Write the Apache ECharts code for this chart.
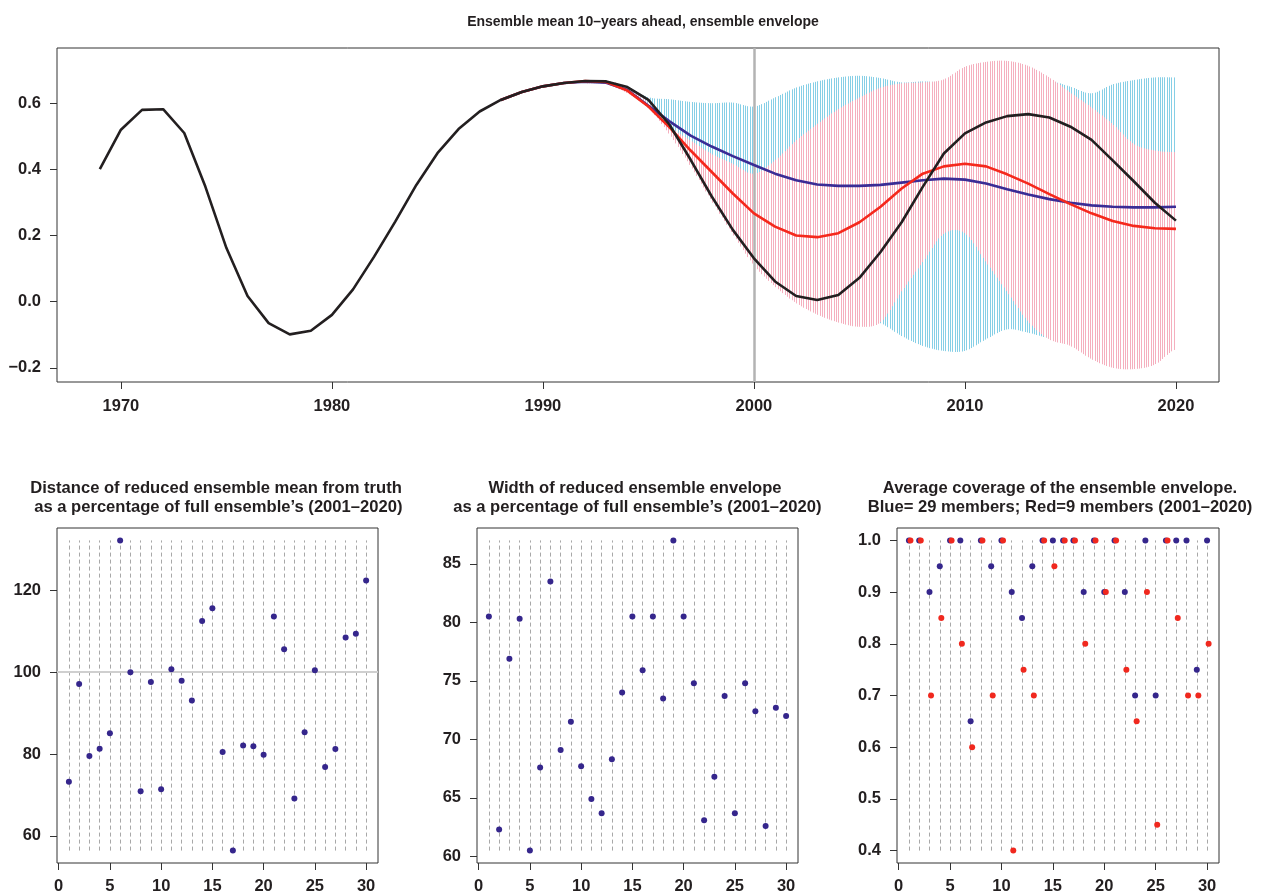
<!DOCTYPE html>
<html><head><meta charset="utf-8">
<script src="https://cdn.jsdelivr.net/npm/echarts@6/dist/echarts.min.js"></script>
<style>html,body{margin:0;padding:0;background:#fff}#c{width:1262px;height:893px}</style>
</head><body><div id="c"></div><script>
// ---------------- data ----------------
const truthYears = [1969,1970,1971,1972,1973,1974,1975,1976,1977,1978,1979,1980,1981,1982,1983,1984,1985,1986,1987,1988,1989,1990,1991,1992,1993,1994,1995,1996,1997,1998,1999,2000,2001,2002,2003,2004,2005,2006,2007,2008,2009,2010,2011,2012,2013,2014,2015,2016,2017,2018,2019,2020];
const truth = [0.401,0.520,0.580,0.582,0.510,0.348,0.162,0.017,-0.065,-0.099,-0.088,-0.040,0.037,0.136,0.242,0.353,0.449,0.522,0.575,0.610,0.634,0.651,0.661,0.667,0.666,0.649,0.610,0.535,0.429,0.318,0.217,0.131,0.061,0.017,0.005,0.020,0.072,0.150,0.240,0.347,0.448,0.509,0.542,0.561,0.567,0.557,0.529,0.489,0.427,0.364,0.299,0.245];

const meanYears = [1988,1989,1990,1991,1992,1993,1994,1995,1996,1997,1998,1999,2000,2001,2002,2003,2004,2005,2006,2007,2008,2009,2010,2011,2012,2013,2014,2015,2016,2017,2018,2019,2020];
const mean29 = [0.610,0.634,0.651,0.661,0.665,0.662,0.640,0.592,0.545,0.502,0.469,0.440,0.413,0.387,0.367,0.354,0.350,0.350,0.353,0.360,0.367,0.372,0.369,0.357,0.340,0.324,0.310,0.299,0.291,0.287,0.285,0.285,0.287];
const mean9 = [0.610,0.634,0.651,0.661,0.667,0.664,0.638,0.590,0.527,0.457,0.392,0.327,0.267,0.227,0.200,0.195,0.207,0.240,0.287,0.342,0.387,0.409,0.417,0.409,0.385,0.357,0.325,0.295,0.267,0.244,0.229,0.222,0.220];

const envYears = [1992,1993,1994,1995,1996,1997,1998,1999,2000,2001,2002,2003,2004,2005,2006,2007,2008,2009,2010,2011,2012,2013,2014,2015,2016,2017,2018,2019,2020];
const env29Hi = [0.667,0.667,0.650,0.618,0.612,0.604,0.600,0.602,0.590,0.617,0.647,0.666,0.678,0.683,0.676,0.663,0.666,0.663,0.665,0.670,0.672,0.670,0.668,0.650,0.630,0.657,0.670,0.678,0.678];
const env29Lo = [0.662,0.660,0.640,0.585,0.520,0.450,0.380,0.300,0.220,0.150,0.080,0.020,-0.020,-0.045,-0.065,-0.104,-0.134,-0.149,-0.149,-0.114,-0.084,-0.094,-0.110,-0.110,-0.100,-0.100,-0.100,-0.100,-0.100];
const env9Hi = [0.667,0.668,0.648,0.600,0.530,0.487,0.447,0.417,0.387,0.427,0.487,0.537,0.582,0.617,0.647,0.660,0.663,0.672,0.710,0.725,0.728,0.713,0.678,0.632,0.587,0.537,0.477,0.457,0.452];
const env9Lo = [0.660,0.658,0.630,0.585,0.505,0.409,0.305,0.205,0.110,0.046,-0.004,-0.039,-0.063,-0.076,-0.062,0.031,0.120,0.205,0.207,0.120,0.030,-0.060,-0.114,-0.134,-0.174,-0.200,-0.204,-0.190,-0.144];

const topXTicks = [1970,1980,1990,2000,2010,2020];
const topYTicks = [-0.2,0.0,0.2,0.4,0.6];
const forecastStart = 2000;

const members = [1,2,3,4,5,6,7,8,9,10,11,12,13,14,15,16,17,18,19,20,21,22,23,24,25,26,27,28,29,30];
const distance = [73.2,97.1,79.5,81.3,85.1,132.2,100.0,70.9,97.6,71.4,100.7,97.9,93.1,112.5,115.6,80.5,56.4,82.1,81.9,79.8,113.6,105.6,69.1,85.3,100.5,76.8,81.2,108.5,109.4,122.4];
const width = [80.5,62.3,76.9,80.3,60.5,67.6,83.5,69.1,71.5,67.7,64.9,63.7,68.3,74.0,80.5,75.9,80.5,73.5,87.0,80.5,74.8,63.1,66.8,73.7,63.7,74.8,72.4,62.6,72.7,72.0];
const cover29 = [1.0,1.0,0.9,0.95,1.0,1.0,0.65,1.0,0.95,1.0,0.9,0.85,0.95,1.0,1.0,1.0,1.0,0.9,1.0,0.9,1.0,0.9,0.7,1.0,0.7,1.0,1.0,1.0,0.75,1.0];
const cover9 = [1.0,1.0,0.7,0.85,1.0,0.8,0.6,1.0,0.7,1.0,0.4,0.75,0.7,1.0,0.95,1.0,1.0,0.8,1.0,0.9,1.0,0.75,0.65,0.9,0.45,1.0,0.85,0.7,0.7,0.8];

const bottomXTicks = [0,5,10,15,20,25,30];
const distYTicks = [60,80,100,120];
const widthYTicks = [60,65,70,75,80,85];
const coverYTicks = [0.4,0.5,0.6,0.7,0.8,0.9,1.0];
const refLevel = 100;

// ---------------- styling helpers ----------------
const FONT = "'Liberation Sans', Arial, Helvetica, sans-serif";
const TXT = '#231f20';
const C_BLACK = '#231f20', C_RED = '#f5281c', C_BLUE = '#3a2c95';
const C_CYAN = '#86cfe6', C_PINK = '#f5afbe';
const PT_BLUE = '#35268c', PT_RED = '#f0281e';
const HATCH_STEP = 2.33;

function rng(arr){ const lo = Math.min(...arr), hi = Math.max(...arr), d = (hi-lo)*0.04; return [lo-d, hi+d]; }
const fmtMinus = v => (v < 0 ? '\u2212' : '') + Math.abs(v).toFixed(1);

function gridOf(left, top, w, h){
  return {left, top, width: w, height: h, show: true, borderColor: '#333', borderWidth: 1,
          backgroundColor: 'transparent', containLabel: false, outerBoundsMode: 'none'};
}
function axis(gridIndex, min, max, ticks, fontSize, margin, fmt){
  return {
    gridIndex, type: 'value', min, max, scale: true,
    axisLine: {show: false, onZero: false},
    splitLine: {show: false},
    axisTick: {show: true, length: 7, customValues: ticks, lineStyle: {color: '#333', width: 1}},
    axisLabel: {customValues: ticks, margin, fontSize, fontWeight: 'bold', color: TXT, fontFamily: FONT,
                formatter: fmt || (v => String(v))}
  };
}
const pairs = (xs, ys) => xs.map((x,i) => [x, ys[i]]);

// Envelope drawn as vertical hatching between the upper and lower bounds (through the axis scales).
function hatchSeries(hi, lo, color, z){
  const n = envYears.length;
  return {
    type: 'custom', coordinateSystem: 'cartesian2d', xAxisIndex: 0, yAxisIndex: 0, silent: true, z,
    data: envYears.map((y,i) => [y, lo[i], hi[i]]),
    encode: {x: 0, y: [1, 2]},
    renderItem: (params, api) => {
      const i = params.dataIndex;
      if (i >= n - 1) return null;
      const P = k => { const kk = Math.max(0, Math.min(n-1, k));
        return [api.coord([envYears[kk], hi[kk]]), api.coord([envYears[kk], lo[kk]])]; };
      const pm = P(i-1), p0 = P(i), p1 = P(i+1), p2 = P(i+2);
      const x0 = p0[0][0], x1 = p1[0][0];
      const cr = (a,b,c,d,t) => 0.5*(2*b + (-a+c)*t + (2*a-5*b+4*c-d)*t*t + (-a+3*b-3*c+d)*t*t*t);
      const children = [];
      const last = (i === n - 2);
      for (let x = Math.ceil(x0 / HATCH_STEP) * HATCH_STEP; x < x1 || (last && x <= x1 + 0.01); x += HATCH_STEP) {
        const t = Math.min(1, (x - x0) / (x1 - x0));
        const yt = cr(pm[0][1], p0[0][1], p1[0][1], p2[0][1], t);
        const yb = cr(pm[1][1], p0[1][1], p1[1][1], p2[1][1], t);
        const xs = Math.floor(x) + 0.5;
        children.push({type: 'line', shape: {x1: xs, y1: yt, x2: xs, y2: yb}, style: {stroke: color, lineWidth: 1}});
      }
      return {type: 'group', children};
    }
  };
}

const xr = rng(members);
const dR = rng(distance), wR = rng(width), cR = rng(cover29.concat(cover9));

function dashSegs(lo, hi){
  return members.map(m => [{coord: [m, lo]}, {coord: [m, hi]}]);
}
const dashStyle = {color: '#a8a8a8', width: 1, type: [4,3]};

const chart = echarts.init(document.getElementById('c'), null, {renderer: 'canvas'});
const titleStyle = (fs) => ({fontSize: fs, fontWeight: 'bold', color: TXT, fontFamily: FONT, lineHeight: 19});
const dot = (color, z) => ({symbolSize: 6, itemStyle: {color, opacity: 1}, silent: true, z});

const option = {
  animation: false,
  backgroundColor: '#fff',
  title: [
    {text: 'Ensemble mean 10\u2013years ahead, ensemble envelope', left: 638, top: 8, textAlign: 'center', textStyle: titleStyle(14)},
    {text: 'Distance of reduced ensemble mean from truth\n as a percentage of full ensemble\u2019s (2001\u20132020)', left: 211, top: 474, textAlign: 'center', textStyle: titleStyle(16.6)},
    {text: 'Width of reduced ensemble envelope\n as a percentage of full ensemble\u2019s (2001\u20132020)', left: 630, top: 474, textAlign: 'center', textStyle: titleStyle(16.6)},
    {text: 'Average coverage of the ensemble envelope.\nBlue= 29 members; Red=9 members (2001\u20132020)', left: 1055, top: 474, textAlign: 'center', textStyle: titleStyle(16.6)}
  ],
  grid: [gridOf(57,48,1162,334), gridOf(57,528,321,335), gridOf(477,528,321,335), gridOf(897,528,322,335)],
  xAxis: [
    axis(0, 1966.97, 2022.04, topXTicks, 16.5, 16),
    axis(1, xr[0], xr[1], bottomXTicks, 16.5, 15),
    axis(2, xr[0], xr[1], bottomXTicks, 16.5, 15),
    axis(3, xr[0], xr[1], bottomXTicks, 16.5, 15)
  ],
  yAxis: [
    axis(0, -0.243, 0.767, topYTicks, 16.5, 16, fmtMinus),
    axis(1, dR[0], dR[1], distYTicks, 16.5, 16),
    axis(2, wR[0], wR[1], widthYTicks, 16.5, 16),
    axis(3, cR[0], cR[1], coverYTicks, 16.5, 16, v => v.toFixed(1))
  ],
  series: [
    hatchSeries(env29Hi, env29Lo, C_CYAN, 1),
    hatchSeries(env9Hi, env9Lo, C_PINK, 1),
    {type:'line', xAxisIndex:0, yAxisIndex:0, data: pairs(meanYears, mean29), symbol:'none',
     lineStyle:{color:C_BLUE, width:2.6}, silent:true, z:3,
     markLine:{silent:true, symbol:['none','none'], z:2, label:{show:false},
       lineStyle:{color:'#b3b3b3', width:2.5, type:'solid'}, data:[{xAxis: forecastStart}]}},
    {type:'line', xAxisIndex:0, yAxisIndex:0, data: pairs(meanYears, mean9), symbol:'none',
     lineStyle:{color:C_RED, width:2.6}, silent:true, z:3},
    {type:'line', xAxisIndex:0, yAxisIndex:0, data: pairs(truthYears, truth), symbol:'none',
     lineStyle:{color:C_BLACK, width:2.6}, silent:true, z:3},

    Object.assign({type:'scatter', xAxisIndex:1, yAxisIndex:1, data: pairs(members, distance),
     markLine:{silent:true, symbol:['none','none'], z:1, label:{show:false}, lineStyle: dashStyle,
       data: dashSegs(Math.min(...distance), Math.max(...distance)).concat([{yAxis: refLevel, lineStyle:{color:'#cfcfcf', width:2, type:'solid'}}])}},
     dot(PT_BLUE, 3)),
    Object.assign({type:'scatter', xAxisIndex:2, yAxisIndex:2, data: pairs(members, width),
     markLine:{silent:true, symbol:['none','none'], z:1, label:{show:false}, lineStyle: dashStyle,
       data: dashSegs(Math.min(...width), Math.max(...width))}},
     dot(PT_BLUE, 3)),
    Object.assign({type:'scatter', xAxisIndex:3, yAxisIndex:3, data: pairs(members, cover29),
     markLine:{silent:true, symbol:['none','none'], z:1, label:{show:false}, lineStyle: dashStyle,
       data: dashSegs(Math.min(...cover29, ...cover9), Math.max(...cover29, ...cover9))}},
     dot(PT_BLUE, 3)),
    Object.assign({type:'scatter', xAxisIndex:3, yAxisIndex:3, data: pairs(members.map(m => m + 0.15), cover9)},
     dot(PT_RED, 4))
  ]
};
chart.setOption(option);
</script></body></html>
